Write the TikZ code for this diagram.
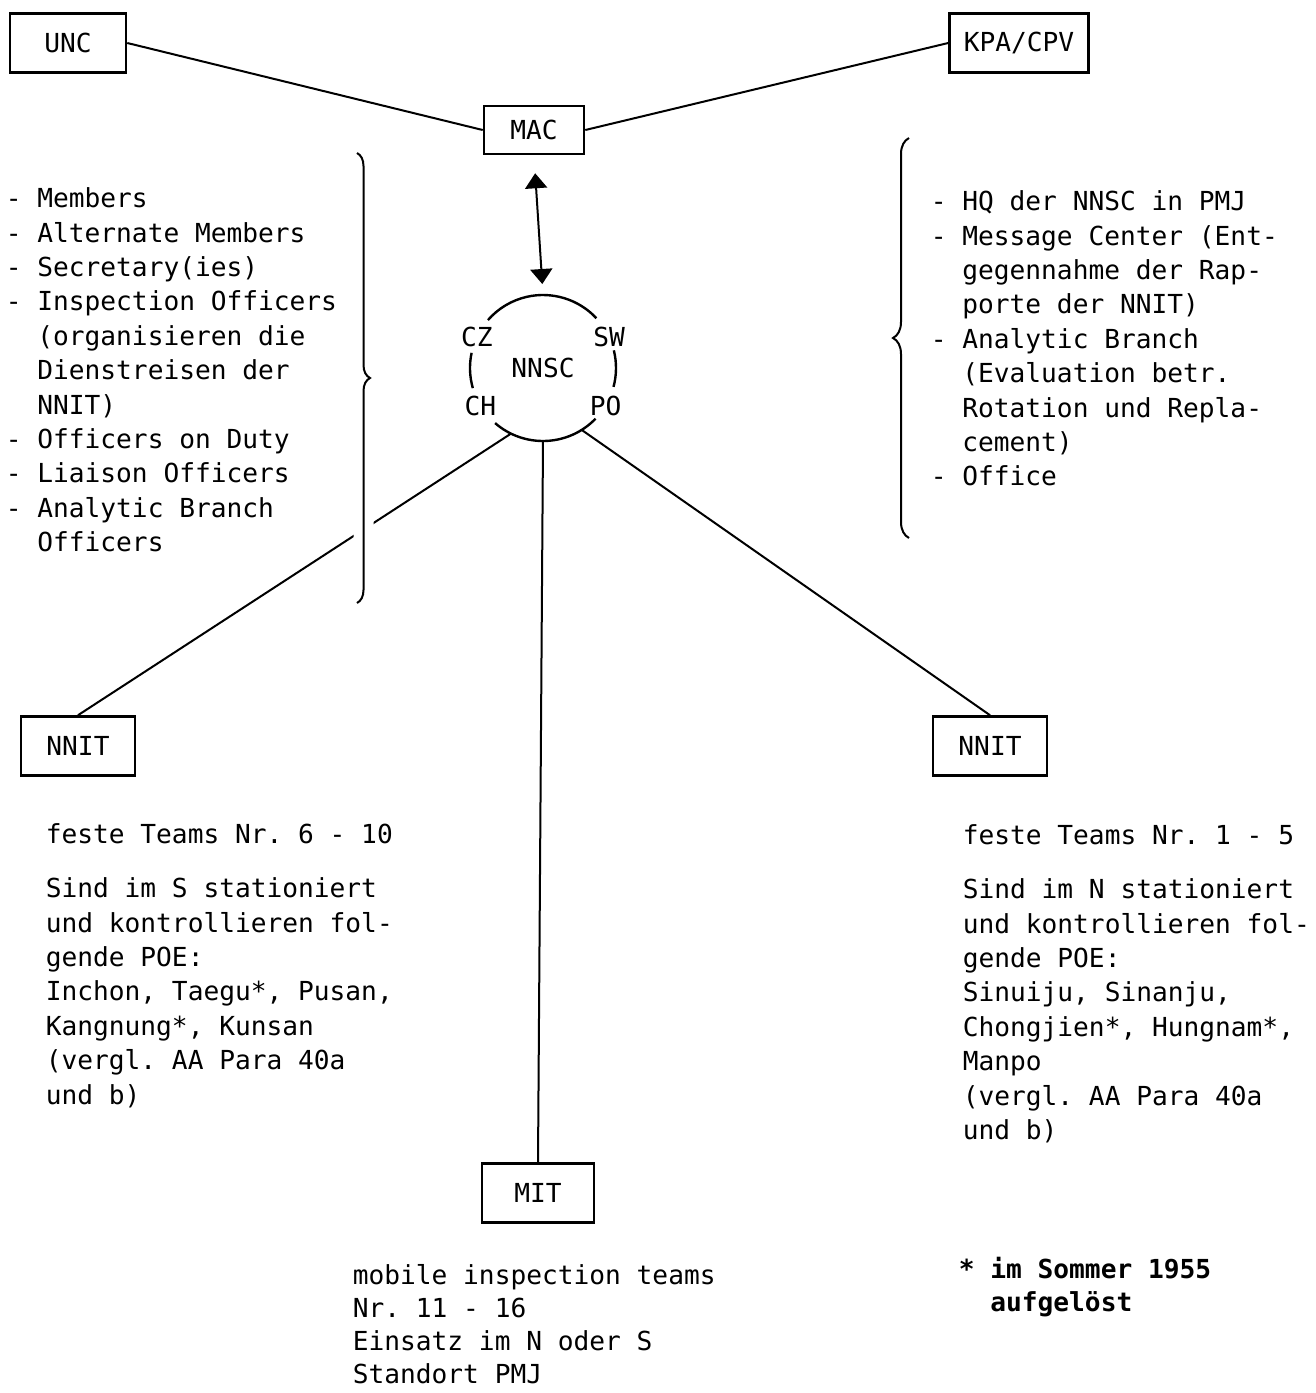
\documentclass[tikz,border=0pt]{standalone}
\usepackage{fontspec}
\newfontfamily\scanfont{DejaVu Sans Mono}[WordSpace={1,0,0}]
\usetikzlibrary{positioning, arrows.meta, decorations.pathreplacing}

\newcommand{\wrapin}{\hphantom{- }}

\begin{document}
\begin{tikzpicture}[x=0.5pt, y=-0.5pt, thick,
    every node/.style={font=\scanfont\fontsize{13.1}{17.2}\selectfont\frenchspacing},
    box/.style={draw, line width=1.3pt, minimum width=57pt, minimum height=29.5pt, inner sep=0pt},
    link/.style={line width=1pt},
    rim/.style={line width=1.2pt},
    part/.style={inner sep=0pt},
    block/.style={align=left, anchor=north west, inner sep=0pt},
    curly/.style={line width=1pt, decorate, decoration={brace, amplitude=#1}}
  ]
  \useasboundingbox (0,0) rectangle (1316,1393);

  % boxes
  \node[box, minimum width=58pt] (unc) at (68,43) {UNC};
  \node[box, minimum width=69.5pt] (kpa) at (1019,43) {KPA/CPV};
  \node[box, minimum width=50pt, minimum height=24pt] (mac) at (534,130) {MAC};
  \node[circle, minimum size=73pt, inner sep=0pt, outer sep=0pt] (nnsc) at (543,368) {NNSC};
  \node[box] (nnitS) at (78,746) {NNIT};
  \node[box] (nnitN) at (990,746) {NNIT};
  \node[box, minimum width=56pt] (mit) at (538,1193) {MIT};

  % the four members round the circle
  \node[part] (cz) at (nnsc.155) {CZ};
  \node[part] (sw) at (nnsc.25) {SW};
  \node[part] (ch) at (nnsc.211) {CH};
  \node[part] (po) at (nnsc.329) {PO};
  \foreach \a/\b in {43/139, 168/196, 345/374, 229/316}
    \draw[rim] (nnsc.\a) arc[start angle=\a, end angle=\b, radius=36.5pt];

  \draw[link] (unc.east) -- (mac.west);
  \draw[link] (mac.east) -- (kpa.west);
  \draw[link, {Triangle[length=7.5pt,width=11pt]}-{Triangle[length=7.5pt,width=11pt]},
    shorten <=9pt, shorten >=5.5pt] (mac.south) -- (nnsc.north);
  \draw[link] (nnsc.244) -- (nnitS.north);
  \draw[link] (nnsc.south) -- (mit.north);
  \draw[link] (nnsc.302) -- (nnitN.north);

  % braces
  \coordinate (lbtop) at (357,153);
  \coordinate (lbbot) at (357,603);
  \coordinate (rbtop) at (909,138);
  \coordinate (rbbot) at (909,538);
  \draw[curly=6.5pt, white, line width=10pt] (lbtop) -- (lbbot);
  \draw[curly=6.5pt] (lbtop) -- (lbbot);
  \draw[curly=8pt] (rbbot) -- (rbtop);

  % texts
  \node[block] (members) at (5,187) {- Members\\
    - Alternate Members\\
    - Secretary(ies)\\
    - Inspection Officers\\
    \wrapin(organisieren die\\
    \wrapin Dienstreisen der\\
    \wrapin NNIT)\\
    - Officers on Duty\\
    - Liaison Officers\\
    - Analytic Branch\\
    \wrapin Officers};
  \node[block] (hq) at (930,190) {- HQ der NNSC in PMJ\\
    - Message Center (Ent-\\
    \wrapin gegennahme der Rap-\\
    \wrapin porte der NNIT)\\
    - Analytic Branch\\
    \wrapin(Evaluation betr.\\
    \wrapin Rotation und Repla-\\
    \wrapin cement)\\
    - Office};
  \node[block] (teamsS) at (45,823) {feste Teams Nr. 6 - 10\\[9.8pt]
    Sind im S stationiert\\
    und kontrollieren fol-\\
    gende POE:\\
    Inchon, Taegu*, Pusan,\\
    Kangnung*, Kunsan\\
    (vergl. AA Para 40a\\
    und b)};
  \node[block] (teamsN) at (962,824) {feste Teams Nr. 1 - 5\\[9.8pt]
    Sind im N stationiert\\
    und kontrollieren fol-\\
    gende POE:\\
    Sinuiju, Sinanju,\\
    Chongjien*, Hungnam*,\\
    Manpo\\
    (vergl. AA Para 40a\\
    und b)};
  \node[block, font=\scanfont\fontsize{13.1}{16.5}\selectfont\frenchspacing] (mobile) at (352,1264)
    {mobile inspection teams\\
    Nr. 11 - 16\\
    Einsatz im N oder S\\
    Standort PMJ};
  \node[block, font=\scanfont\bfseries\fontsize{13.1}{16.5}\selectfont] (note) at (958,1256)
    {* im Sommer 1955\\ \hphantom{* }aufgelöst};
\end{tikzpicture}
\end{document}
